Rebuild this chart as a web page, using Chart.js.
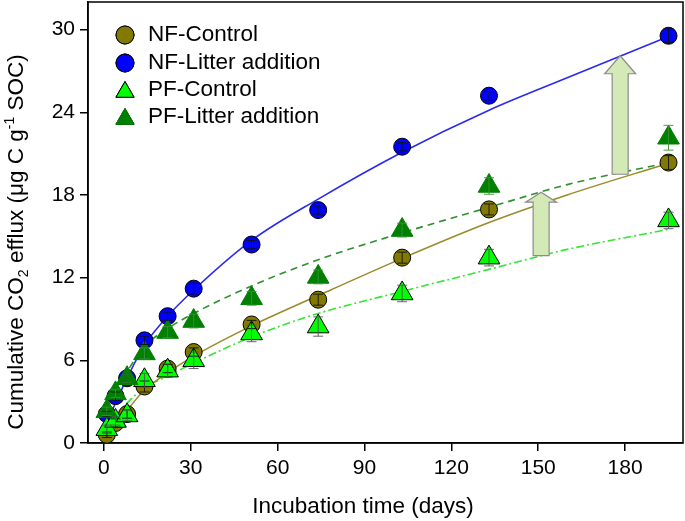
<!DOCTYPE html>
<html>
<head>
<meta charset="utf-8">
<script src="https://cdn.jsdelivr.net/npm/chart.js@4.4.0/dist/chart.umd.min.js"></script>
<style>
  html, body { margin: 0; padding: 0; background: #fff; }
</style>
</head>
<body>
<canvas id="myChart" width="685" height="521"></canvas>
<script>
// sampling days (incubation time)
const days = [1, 4, 8, 14, 22, 31, 51, 74, 103, 133, 195];

// measured cumulative CO2 efflux (ug C g-1 SOC)
const nfControl = [0.6, 1.45, 2.1, 4.1, 5.4, 6.6, 8.6, 10.4, 13.45, 16.95, 20.35];
const nfLitter  = [2.1, 3.4, 4.7, 7.45, 9.2, 11.2, 14.4, 16.9, 21.5, 25.2, 29.55];
const pfControl = [1.0, 1.6, 2.0, 4.55, 5.25, 6.0, 7.95, 8.45, 10.85, 13.45, 16.15];
const pfLitter  = [2.3, 3.6, 4.7, 6.5, 8.05, 8.85, 10.5, 12.05, 15.45, 18.65, 22.15];

// standard errors
const nfControlErr = [0.2, 0.3, 0.3, 0.4, 0.3, 0.3, 0.3, 0.4, 0.4, 0.4, 0.5];
const nfLitterErr  = [0.2, 0.3, 0.3, 0.3, 0.3, 0.4, 0.3, 0.3, 0.3, 0.3, 0.5];
const pfControlErr = [0.3, 0.3, 0.4, 0.5, 0.5, 0.6, 0.6, 0.7, 0.6, 0.6, 0.6];
const pfLitterErr  = [0.3, 0.3, 0.3, 0.4, 0.4, 0.5, 0.5, 0.5, 0.5, 0.6, 0.9];

// fitted curves
const fitDays = [1, 4, 8, 14, 22, 31, 51, 74, 103, 133, 160, 195];
const nfControlFit = [0.85, 1.55, 2.4, 3.85, 5.1, 6.3, 8.5, 10.7, 13.4, 16.0, 18.0, 20.3];
const nfLitterFit  = [1.5, 2.9, 4.7, 7.1, 9.2, 11.1, 14.7, 17.7, 21.1, 24.15, 26.5, 29.5];
const pfControlFit = [1.0, 1.9, 2.9, 4.0, 4.85, 5.8, 7.7, 9.4, 11.0, 12.6, 14.05, 15.5];
const pfLitterFit  = [2.4, 3.9, 5.2, 7.0, 8.3, 9.4, 11.4, 13.3, 15.25, 17.1, 18.75, 20.35];

// arrows (litter addition effect)
const arrowDays = [151, 178.3];
const arrowFrom = [13.6, 19.5];
const arrowTo   = [18.2, 28.1];

const seriesNames = ['NF-Control', 'NF-Litter addition', 'PF-Control', 'PF-Litter addition'];
const xTicks = [0, 30, 60, 90, 120, 150, 180];
const yTicks = [0, 6, 12, 18, 24, 30];
const xTitle = 'Incubation time (days)';

const FONT = "'Liberation Sans', Arial, sans-serif";
Chart.defaults.font.family = FONT;
Chart.defaults.color = '#000';

const toXY = (xs, ys) => xs.map((x, i) => ({ x: x, y: ys[i] }));

function pointSet(label, values, errs, style) {
    return Object.assign({
        label: label,
        data: toXY(days, values),
        errors: errs,
        showLine: false,
        borderWidth: 1
    }, style);
}

function curveSet(values, color, dash, width) {
    return {
        label: 'fit',
        data: toXY(fitDays, values),
        showLine: true,
        pointRadius: 0,
        borderColor: color,
        borderWidth: width,
        borderDash: dash,
        cubicInterpolationMode: 'monotone',
        order: 10
    };
}

const datasets = [
    pointSet(seriesNames[0], nfControl, nfControlErr, {
        pointStyle: 'circle', pointRadius: 8.5, backgroundColor: '#827a00', borderColor: '#000', errColor: '#111', order: 4
    }),
    pointSet(seriesNames[1], nfLitter, nfLitterErr, {
        pointStyle: 'circle', pointRadius: 8.5, backgroundColor: '#0000ff', borderColor: '#000', errColor: '#111', order: 3
    }),
    pointSet(seriesNames[2], pfControl, pfControlErr, {
        pointStyle: 'triangle', pointRadius: 12.5, backgroundColor: '#00ff00', borderColor: '#000', errColor: '#555', order: 2
    }),
    pointSet(seriesNames[3], pfLitter, pfLitterErr, {
        pointStyle: 'triangle', pointRadius: 12.5, backgroundColor: '#008000', borderColor: '#008000', errColor: '#3a8f3a', order: 1
    }),
    curveSet(nfControlFit, '#9a8a28', [], 1.5),
    curveSet(nfLitterFit, '#2a2aee', [], 1.6),
    curveSet(pfControlFit, '#33e633', [8, 3, 2, 3], 1.6),
    curveSet(pfLitterFit, '#2f8f2f', [7, 5], 1.6)
];

// frame round the plot, arrows, error bars, legend and axis titles
const decorPlugin = {
    id: 'decor',
    beforeDatasetsDraw(chart) {
        const { ctx, chartArea: a } = chart;
        ctx.save();
        ctx.strokeStyle = '#000';
        ctx.lineWidth = 1.5;
        ctx.strokeRect(a.left, a.top, a.right - a.left, a.bottom - a.top);
        ctx.restore();
    },
    afterDatasetsDraw(chart) {
        const { ctx, scales: { x, y } } = chart;
        ctx.save();
        // arrows
        const heads = [10, 18];
        arrowDays.forEach((d, i) => {
            const cx = x.getPixelForValue(d);
            const yb = y.getPixelForValue(arrowFrom[i]);
            const yt = y.getPixelForValue(arrowTo[i]);
            const hb = yt + heads[i];
            ctx.beginPath();
            ctx.moveTo(cx - 8, yb);
            ctx.lineTo(cx - 8, hb);
            ctx.lineTo(cx - 15.5, hb);
            ctx.lineTo(cx, yt);
            ctx.lineTo(cx + 15.5, hb);
            ctx.lineTo(cx + 8, hb);
            ctx.lineTo(cx + 8, yb);
            ctx.closePath();
            ctx.fillStyle = '#d3e9b6';
            ctx.fill();
            ctx.strokeStyle = '#8c8c8c';
            ctx.lineWidth = 1.2;
            ctx.stroke();
        });
        // error bars
        chart.data.datasets.forEach(ds => {
            if (!ds.errors) return;
            ctx.strokeStyle = ds.errColor;
            ctx.lineWidth = 0.9;
            ds.data.forEach((p, i) => {
                const px = x.getPixelForValue(p.x);
                const lo = y.getPixelForValue(p.y - ds.errors[i]);
                const hi = y.getPixelForValue(p.y + ds.errors[i]);
                ctx.beginPath();
                ctx.moveTo(px, lo); ctx.lineTo(px, hi);
                ctx.moveTo(px - 5, lo); ctx.lineTo(px + 5, lo);
                ctx.moveTo(px - 5, hi); ctx.lineTo(px + 5, hi);
                ctx.stroke();
            });
        });
        ctx.restore();
    },
    afterDraw(chart) {
        const { ctx } = chart;
        ctx.save();
        // legend
        const rows = [35, 63, 90, 117];
        chart.data.datasets.slice(0, 4).forEach((ds, i) => {
            const r = ds.pointStyle === 'triangle' ? 10.5 : 9;
            Chart.helpers.drawPoint(ctx, {
                pointStyle: ds.pointStyle, radius: r, borderWidth: 1
            }, 125, rows[i] + (ds.pointStyle === 'triangle' ? 2 : 0));
            ctx.fillStyle = ds.backgroundColor;
            ctx.strokeStyle = ds.borderColor;
            ctx.lineWidth = 1;
            ctx.fill();
            ctx.stroke();
            ctx.fillStyle = '#000';
            ctx.font = '22.5px ' + FONT;
            ctx.textBaseline = 'middle';
            ctx.textAlign = 'left';
            ctx.fillText(ds.label, 148, rows[i]);
        });
        // x axis title
        ctx.font = '22.5px ' + FONT;
        ctx.textAlign = 'center';
        ctx.textBaseline = 'alphabetic';
        ctx.fillText(xTitle, 363, 513);
        // y axis title with sub / superscript
        const parts = [
            ['Cumulative CO', 22.5, 0], ['2', 14, 5], [' efflux (\u03bcg C g', 22.5, 0],
            ['-1', 14, -9], [' SOC)', 22.5, 0]
        ];
        let total = 0;
        parts.forEach(p => { ctx.font = p[1] + 'px ' + FONT; total += ctx.measureText(p[0]).width; });
        ctx.translate(0, 242);
        ctx.rotate(-Math.PI / 2);
        ctx.textAlign = 'left';
        ctx.fillStyle = '#000';
        let pos = -total / 2;
        parts.forEach(p => {
            ctx.font = p[1] + 'px ' + FONT;
            ctx.fillText(p[0], pos, 23 + p[2]);
            pos += ctx.measureText(p[0]).width;
        });
        ctx.restore();
    }
};

new Chart(document.getElementById('myChart').getContext('2d'), {
    type: 'scatter',
    data: { datasets: datasets },
    options: {
        responsive: false,
        animation: false,
        layout: { autoPadding: false, padding: { top: 2, right: 2, left: 0, bottom: 0 } },
        plugins: { legend: { display: false }, tooltip: { enabled: false } },
        scales: {
            x: {
                type: 'linear', min: -5.5, max: 200,
                afterBuildTicks: s => { s.ticks = xTicks.map(v => ({ value: v })); },
                afterFit: s => { s.height = 78; s.paddingLeft = 0; s.paddingRight = 0; },
                ticks: { font: { size: 21 }, color: '#000', padding: 5, maxRotation: 0 },
                grid: { drawOnChartArea: false, drawTicks: true, tickLength: 8, color: '#000', lineWidth: 1.5 },
                border: { display: true, color: '#000', width: 1.5 }
            },
            y: {
                type: 'linear', min: 0, max: 32,
                afterBuildTicks: s => { s.ticks = yTicks.map(v => ({ value: v })); },
                afterFit: s => { s.width = 88; s.paddingTop = 0; s.paddingBottom = 0; },
                ticks: { font: { size: 21 }, color: '#000', padding: 5 },
                grid: { drawOnChartArea: false, drawTicks: true, tickLength: 8, color: '#000', lineWidth: 1.5 },
                border: { display: true, color: '#000', width: 1.5 }
            }
        }
    },
    plugins: [decorPlugin]
});
</script>
</body>
</html>
